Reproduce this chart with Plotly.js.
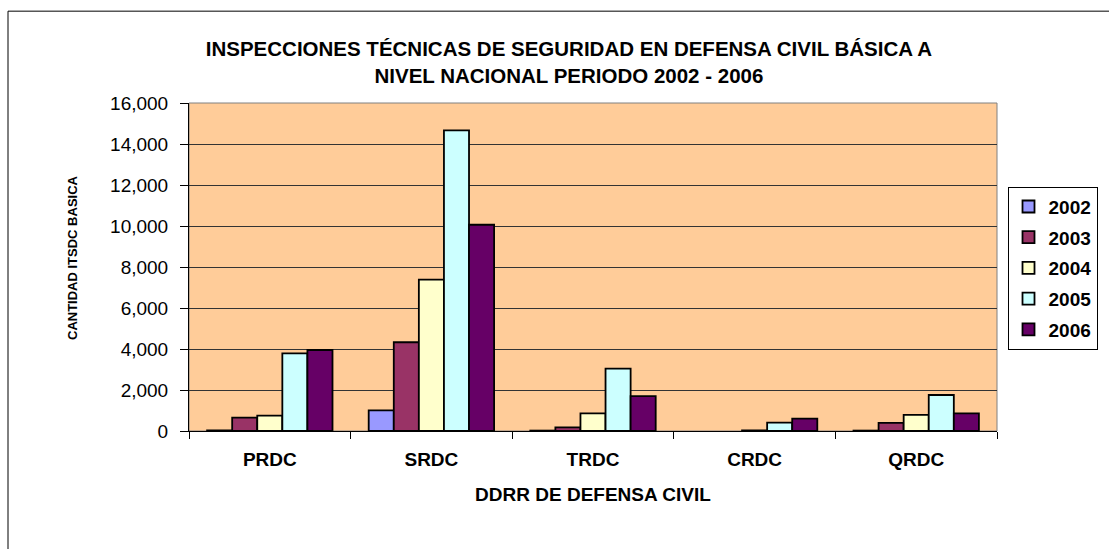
<!DOCTYPE html>
<html>
<head>
<meta charset="utf-8">
<script src="https://cdn.plot.ly/plotly-3.0.1.min.js"></script>
<style>
  html, body { margin: 0; padding: 0; background: #ffffff; }
  #chart { width: 1109px; height: 549px; }
</style>
</head>
<body>
<div id="chart"></div>
<script>
// ---- data ----
const categories = ["PRDC", "SRDC", "TRDC", "CRDC", "QRDC"];
const years = ["2002", "2003", "2004", "2005", "2006"];
const v2002 = [30, 1010, 20, null, 20];
const v2003 = [650, 4330, 180, null, 400];
const v2004 = [750, 7380, 860, 30, 790];
const v2005 = [3790, 14660, 3040, 410, 1755];
const v2006 = [3950, 10060, 1700, 600, 860];
const yTicks = [0, 2000, 4000, 6000, 8000, 10000, 12000, 14000, 16000];

const titleText = "INSPECCIONES TÉCNICAS DE SEGURIDAD EN DEFENSA CIVIL BÁSICA A<br>NIVEL NACIONAL PERIODO 2002 - 2006";
const xTitle = "DDRR DE DEFENSA CIVIL";
const yTitle = "CANTIDAD ITSDC BASICA";

const colors = ["#9999FF", "#993366", "#FFFFCC", "#CCFFFF", "#660066"];
const series = [v2002, v2003, v2004, v2005, v2006];

const FONT = "Liberation Sans, Arial, sans-serif";

const traces = series.map((vals, i) => ({
  type: "bar",
  name: years[i],
  legendgroup: years[i],
  x: categories,
  y: vals,
  marker: { color: colors[i], line: { color: "#000000", width: 1.8 } },
  hoverinfo: "x+y+name"
}));

const layout = {
  width: 1109,
  height: 549,
  margin: { l: 189, r: 108, t: 103, b: 118, pad: 0 },
  paper_bgcolor: "#ffffff",
  plot_bgcolor: "#FFCC99",
  barmode: "group",
  bargap: 0.224,
  bargroupgap: 0,
  font: { family: FONT, color: "#000000" },
  title: {
    text: titleText,
    font: { family: FONT, size: 20.5, color: "#000000", weight: "bold" },
    x: 0.513, xanchor: "center",
    y: 0.898, yanchor: "middle"
  },
  xaxis: {
    type: "category",
    showline: true, linecolor: "#000000", linewidth: 1,
    ticks: "outside", ticklen: 7, tickcolor: "#000000", tickson: "boundaries",
    tickfont: { family: FONT, size: 19, color: "#000000", weight: "bold" },
    ticklabelstandoff: 11,
    title: { text: xTitle, font: { family: FONT, size: 19, color: "#000000", weight: "bold" }, standoff: 18 },
    showgrid: false, zeroline: false, fixedrange: true
  },
  yaxis: {
    range: [0, 16000],
    tickvals: yTicks,
    tickformat: ",d",
    showline: true, linecolor: "#000000", linewidth: 1,
    ticks: "outside", ticklen: 8, tickcolor: "#000000",
    tickfont: { family: FONT, size: 19, color: "#000000" },
    ticklabelstandoff: 8,
    showgrid: true, gridcolor: "#333333", gridwidth: 1,
    zeroline: false,
    fixedrange: true
  },
  annotations: [
    { text: yTitle, xref: "paper", yref: "paper", x: -0.145, y: 0.53,
      xanchor: "center", yanchor: "middle", textangle: -90, showarrow: false,
      font: { family: FONT, size: 13, color: "#000000", weight: "bold" } }
  ],
  legend: {
    x: 1.013, xanchor: "left",
    y: 0.745, yanchor: "top",
    bgcolor: "#ffffff",
    bordercolor: "#000000", borderwidth: 1,
    font: { family: FONT, size: 19, color: "#000000", weight: "bold" },
    traceorder: "grouped",
    tracegroupgap: 3,
    itemwidth: 30
  },
  shapes: [
    { type: "rect", xref: "paper", yref: "paper", x0: 0, x1: 1, y0: 0, y1: 1,
      line: { color: "#808080", width: 1 }, layer: "below" },
    { type: "rect", xref: "paper", yref: "paper", x0: -0.224, x1: 1.2, y0: -0.5, y1: 1.28,
      line: { color: "#000000", width: 1 }, layer: "below" }
  ],
  showlegend: true
};

Plotly.newPlot("chart", traces, layout, { displayModeBar: false, staticPlot: true });
</script>
</body>
</html>
